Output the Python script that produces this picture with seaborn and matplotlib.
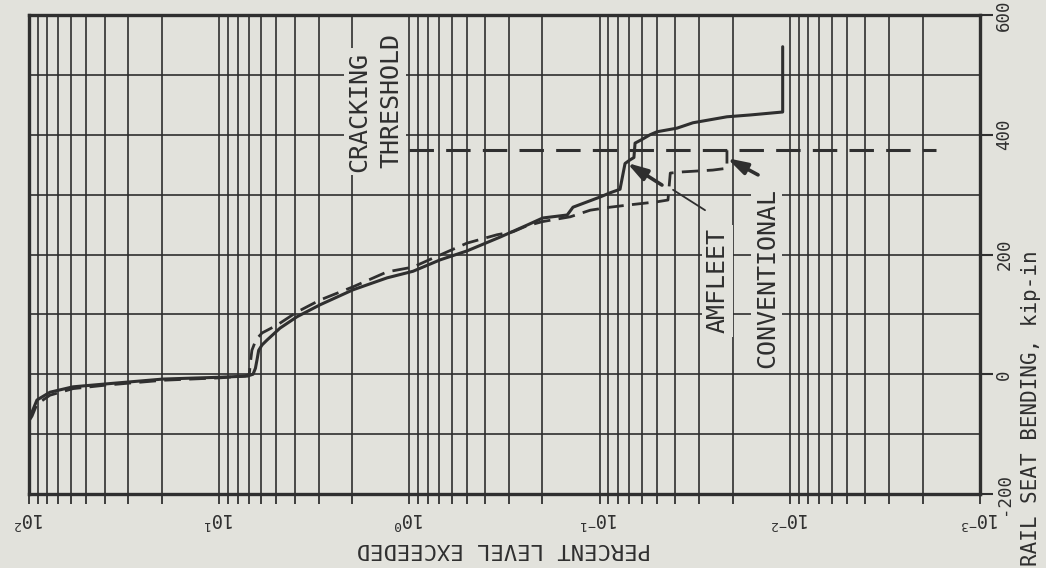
import numpy as np
import pandas as pd
import matplotlib
matplotlib.use("Agg")
import matplotlib.pyplot as plt
import seaborn as sns
from matplotlib.ticker import (LogLocator, FixedLocator, FixedFormatter,
                               NullFormatter, MultipleLocator)

# ---------------- data ----------------
amfleet_pct = [100, 96.4, 90.8, 77.6, 58.7, 38.9, 19.7, 9.9, 7.1, 6.64, 6.45, 6.32,
               6.2, 5.95, 5.61, 4.79, 3.90, 2.95, 1.98, 1.31, 0.957, 0.690, 0.498,
               0.334, 0.241, 0.199, 0.148, 0.138, 0.0995, 0.0881, 0.0781, 0.0735,
               0.0692, 0.0660, 0.0651, 0.0600, 0.0543, 0.0499, 0.0392, 0.0323,
               0.0214, 0.0162, 0.0109, 0.0109]
amfleet_val = [-72, -63, -43, -30, -21, -16, -8, -5, -3, 0, 10, 25,
               40, 49, 57, 77, 96, 116, 141, 161, 172, 191, 206,
               229, 249, 261, 266, 279, 296, 303, 309, 352,
               358, 362, 386, 392, 400, 405, 411, 420,
               430, 433, 438, 547]

conv_pct = [100, 96.4, 90.8, 77.6, 58.7, 38.9, 19.7, 9.9, 7.3, 6.95, 6.85, 6.73,
            6.4, 5.95, 4.97, 3.90, 2.95, 1.98, 1.31, 0.957, 0.751, 0.498, 0.346,
            0.285, 0.241, 0.199, 0.1425, 0.112, 0.0881, 0.0692, 0.0499, 0.0437,
            0.0425, 0.0365, 0.0254, 0.0214, 0.0214]
conv_val = [-78, -70, -50, -35, -24, -18, -10, -6, -3, 0, 20, 40,
            58, 69, 82, 104, 124, 146, 171, 179, 194, 219, 233,
            238, 248, 255, 263, 274, 279, 283, 288, 291,
            336, 338, 341, 344, 374]

threshold_pct = [1.0, 0.0017]
threshold_val = [375, 375]

x_ticks = [1e2, 1e1, 1e0, 1e-1, 1e-2, 1e-3]
x_tick_labels = [r"$10^{2}$", r"$10^{1}$", r"$10^{0}$", r"$10^{-1}$", r"$10^{-2}$", r"$10^{-3}$"]
y_ticks = [-200, 0, 200, 400, 600]
y_tick_labels = ["-200", "0", "200", "400", "600"]

# ---------------- style ----------------
BG = "#e2e2dc"
INK = "#2f2f2f"
sns.set_theme(style="white")
plt.rcParams["font.family"] = ["DejaVu Sans Mono", "DejaVu Sans"]
plt.rcParams["mathtext.fontset"] = "custom"
plt.rcParams["mathtext.rm"] = "DejaVu Sans Mono"
plt.rcParams["mathtext.it"] = "DejaVu Sans Mono"
plt.rcParams["mathtext.bf"] = "DejaVu Sans Mono:bold"
plt.rcParams["text.color"] = INK

fig = plt.figure(figsize=(10.46, 5.68), dpi=100, facecolor=BG)
ax = fig.add_axes([29 / 1046, 1 - 494 / 568, 951 / 1046, 479 / 568], facecolor=BG)

df_a = pd.DataFrame({"pct": amfleet_pct, "val": amfleet_val})
df_c = pd.DataFrame({"pct": conv_pct, "val": conv_val})
df_t = pd.DataFrame({"pct": threshold_pct, "val": threshold_val})

sns.lineplot(data=df_a, x="pct", y="val", sort=False, estimator=None,
             color=INK, lw=2.2, ax=ax, zorder=4)
sns.lineplot(data=df_c, x="pct", y="val", sort=False, estimator=None,
             color=INK, lw=2.0, ax=ax, zorder=4)
ax.lines[-1].set_dashes((6, 3))
sns.lineplot(data=df_t, x="pct", y="val", sort=False, estimator=None,
             color=INK, lw=2.2, ax=ax, zorder=4)
ax.lines[-1].set_dashes((8, 4))

ax.set_xscale("log")
ax.set_xlim(100, 0.001)
ax.set_ylim(-200, 600)

ax.xaxis.set_major_locator(FixedLocator(x_ticks))
ax.xaxis.set_major_formatter(FixedFormatter(x_tick_labels))
ax.xaxis.set_minor_locator(LogLocator(base=10, subs=np.arange(2, 10), numticks=30))
ax.xaxis.set_minor_formatter(NullFormatter())

ax.yaxis.set_major_locator(FixedLocator(y_ticks))
ax.yaxis.set_major_formatter(FixedFormatter(y_tick_labels))
ax.yaxis.set_minor_locator(MultipleLocator(100))
ax.yaxis.tick_right()

ax.tick_params(axis="x", which="both", direction="out", length=7, width=1.3,
               color=INK, bottom=True, top=False, labelsize=13.5, pad=3,
               labelrotation=180, labelcolor=INK)
ax.tick_params(axis="y", which="major", direction="out", length=9, width=1.5,
               color=INK, right=True, left=False, labelsize=12.5, pad=2,
               labelrotation=90, labelcolor=INK)
ax.tick_params(axis="y", which="minor", length=0)
for lab in ax.get_yticklabels():
    lab.set_va("center")

ax.grid(which="both", axis="both", color=INK, lw=1.2)
ax.set_axisbelow(True)
for s in ax.spines.values():
    s.set_linewidth(2.4)
    s.set_color(INK)
    s.set_visible(True)

ax.set_xlabel("")
ax.set_ylabel("")

fig.text(504 / 1046, 1 - 549 / 568, "PERCENT LEVEL EXCEEDED", rotation=180,
         ha="center", va="center", fontsize=16, color=INK)
fig.text(1031 / 1046, 1 - 408 / 568, "RAIL SEAT BENDING, kip-in", rotation=90,
         ha="center", va="center", fontsize=15, color=INK)

box = dict(facecolor=BG, edgecolor="none", pad=2.5)
tk = dict(rotation=90, ha="center", va="center", fontsize=18, color=INK,
          bbox=box, zorder=5)
ax.text(1.84, 438, "CRACKING", **tk)
ax.text(1.25, 458, "THRESHOLD", **tk)
ax.text(0.0241, 156, "AMFLEET", **tk)
ax.text(0.0132, 161, "CONVENTIONAL", **tk)

# arrows / leader
ax.annotate("", xy=(0.0718, 353), xytext=(0.047, 316),
            arrowprops=dict(arrowstyle="-|>,head_length=1.0,head_width=0.3",
                            lw=2.6, color=INK, shrinkA=0, shrinkB=0), zorder=6)
ax.annotate("", xy=(0.0214, 361), xytext=(0.01469, 333),
            arrowprops=dict(arrowstyle="-|>,head_length=1.0,head_width=0.3",
                            lw=2.6, color=INK, shrinkA=0, shrinkB=0), zorder=6)
ax.plot([0.0411, 0.0279], [308, 274], color=INK, lw=1.3, zorder=6)

fig.savefig("out.png", dpi=100, facecolor=BG)
